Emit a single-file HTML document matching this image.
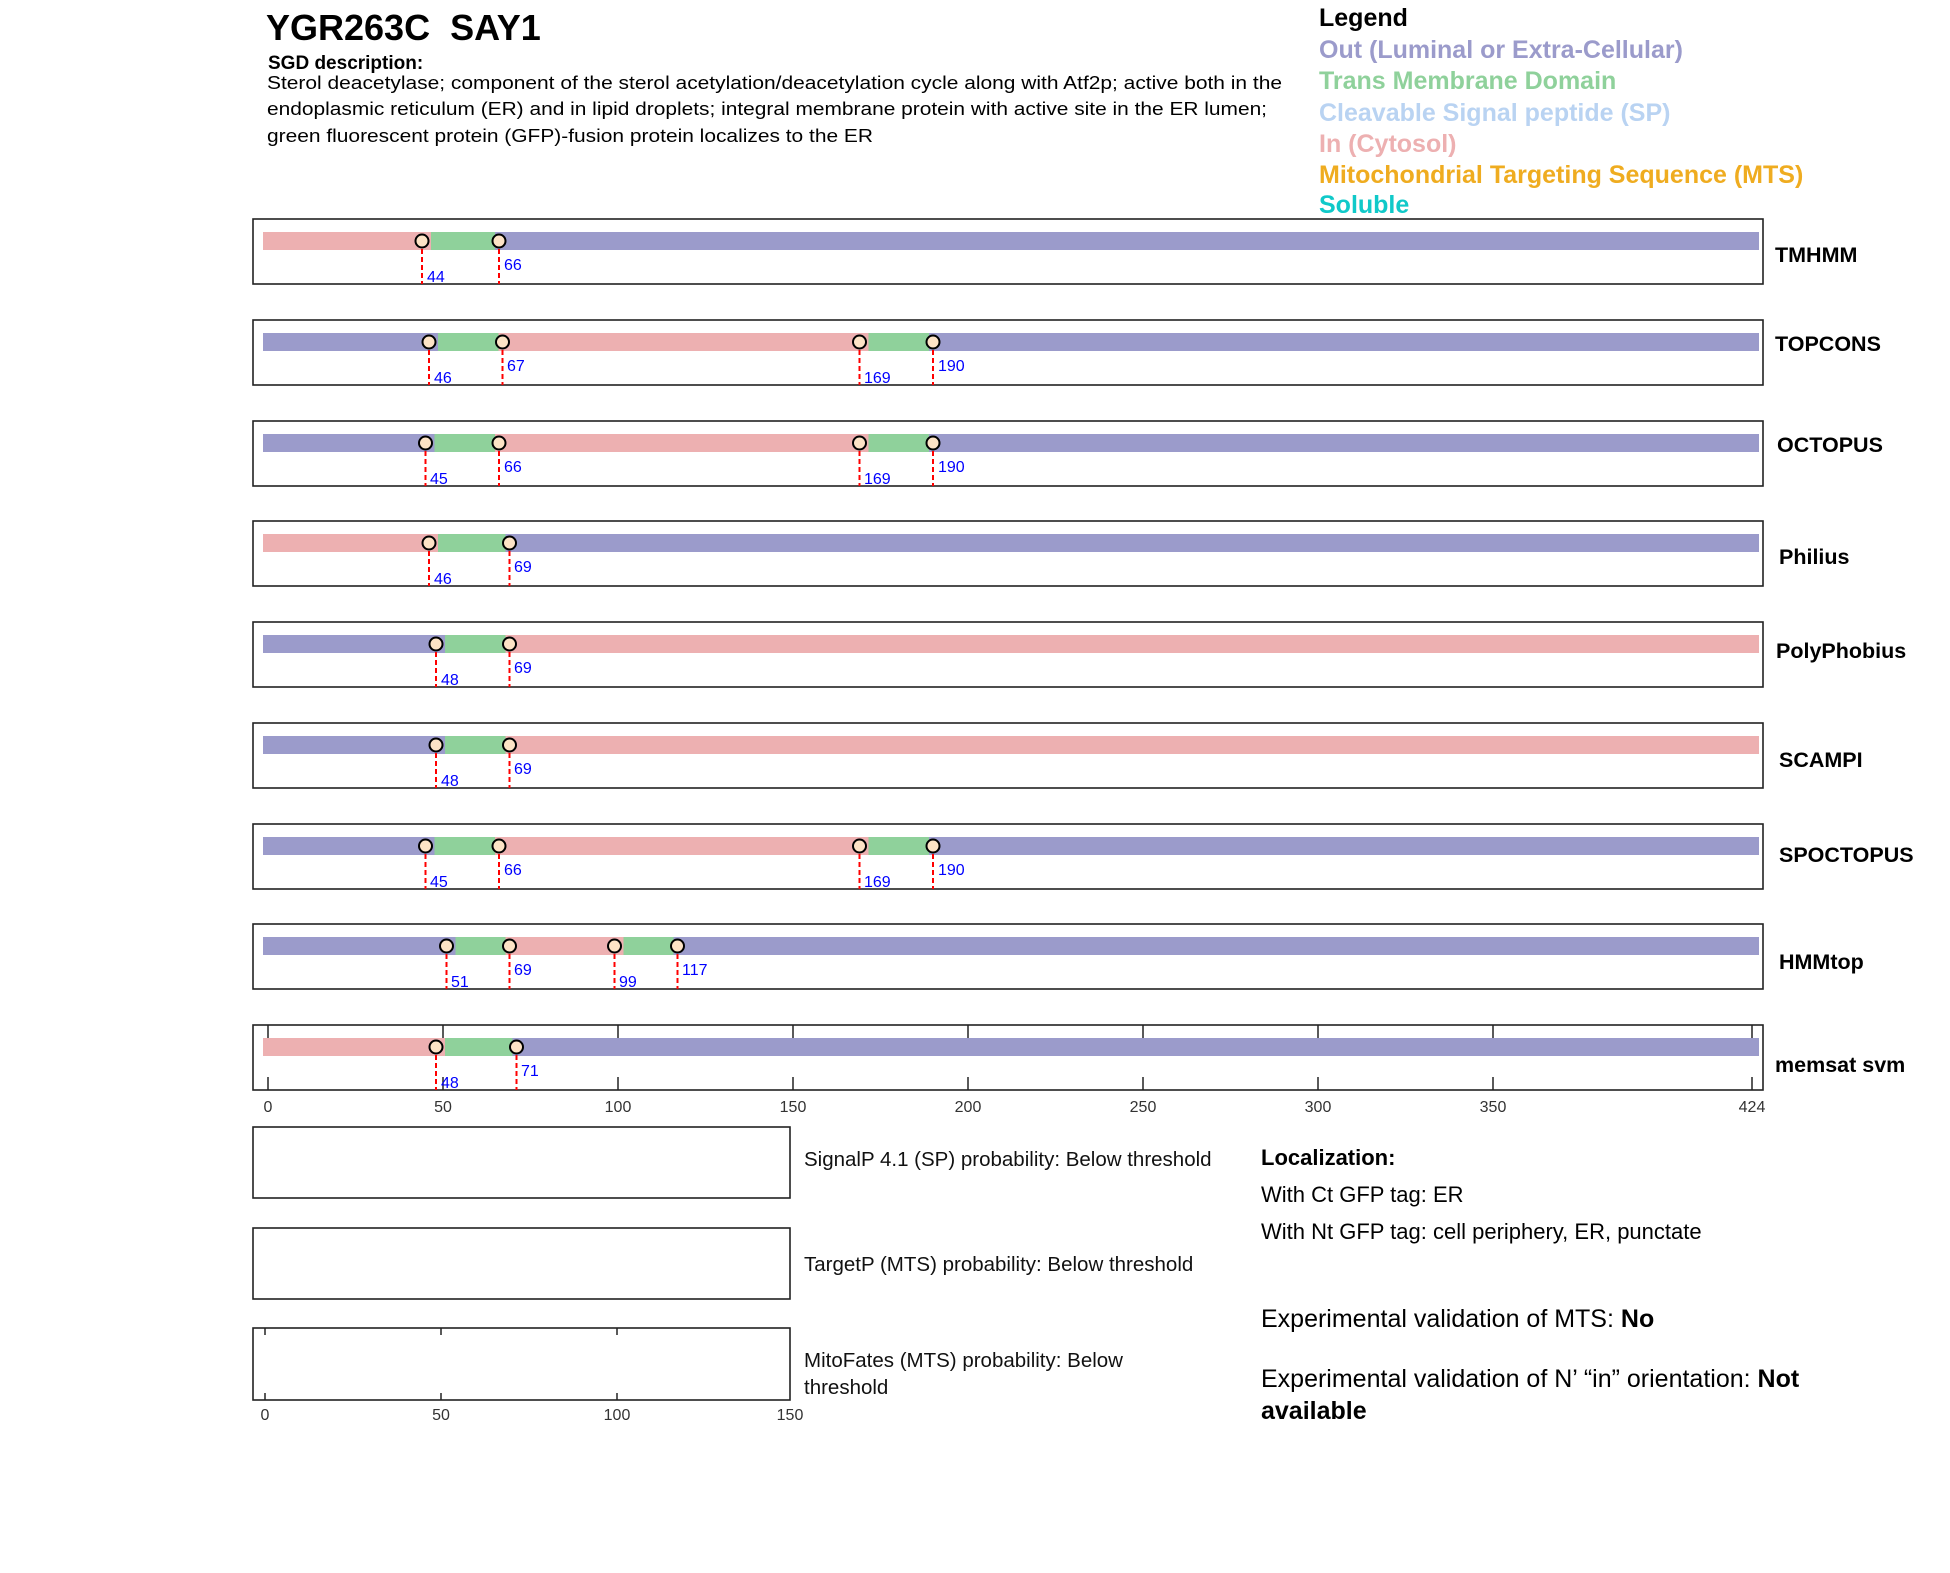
<!DOCTYPE html>
<html><head><meta charset="utf-8"><style>
html,body{margin:0;padding:0;background:#fff;}
svg{display:block;font-family:"Liberation Sans",Arial,sans-serif;}
</style></head><body>
<svg width="1950" height="1573" viewBox="0 0 1950 1573" xmlns="http://www.w3.org/2000/svg">
<style>
.box{fill:none;stroke:#222;stroke-width:1.6}
.dl{stroke:#f00;stroke-width:2;stroke-dasharray:5,3}
.mk{fill:#fde3c6;stroke:#000;stroke-width:2}
.lb{fill:#0000ff;font-size:16px}
.mn{font-size:21.5px;font-weight:bold;fill:#000}
.tk{stroke:#222;stroke-width:1.5}
.tl{font-size:16px;fill:#333;text-anchor:middle}
</style>
<!-- header -->
<text x="266" y="40" font-size="36" font-weight="bold" xml:space="preserve">YGR263C  SAY1</text>
<text x="268" y="69" font-size="19" font-weight="bold">SGD description:</text>
<text x="267" y="89" font-size="18" textLength="1015" lengthAdjust="spacingAndGlyphs">Sterol deacetylase; component of the sterol acetylation/deacetylation cycle along with Atf2p; active both in the</text>
<text x="267" y="115" font-size="18" textLength="1000" lengthAdjust="spacingAndGlyphs">endoplasmic reticulum (ER) and in lipid droplets; integral membrane protein with active site in the ER lumen;</text>
<text x="267" y="142" font-size="18" textLength="606" lengthAdjust="spacingAndGlyphs">green fluorescent protein (GFP)-fusion protein localizes to the ER</text>
<g font-size="25" font-weight="bold">
<text x="1319" y="26" fill="#000">Legend</text>
<text x="1319" y="58" fill="#9b9bcb">Out (Luminal or Extra-Cellular)</text>
<text x="1319" y="89" fill="#8fd19b">Trans Membrane Domain</text>
<text x="1319" y="121" fill="#b9d3f2">Cleavable Signal peptide (SP)</text>
<text x="1319" y="152" fill="#edb0b1">In (Cytosol)</text>
<text x="1319" y="183" fill="#efac20">Mitochondrial Targeting Sequence (MTS)</text>
<text x="1319" y="213" fill="#10c9c9">Soluble</text>
</g>

<!-- TMHMM T=219 -->
<g>
<rect x="263" y="232" width="168" height="18" fill="#edb0b1"/><rect x="431" y="232" width="64" height="18" fill="#8fd19b"/><rect x="495" y="232" width="1264" height="18" fill="#9b9bcb"/>
<rect class="box" x="253" y="219" width="1510" height="65"/>
<line class="dl" x1="422" y1="241" x2="422" y2="284"/><circle class="mk" cx="422" cy="241" r="6.5"/><text class="lb" x="427" y="282">44</text>
<line class="dl" x1="499" y1="241" x2="499" y2="284"/><circle class="mk" cx="499" cy="241" r="6.5"/><text class="lb" x="504" y="270">66</text>
<text class="mn" x="1775" y="262">TMHMM</text>
</g>
<!-- TOPCONS T=320 -->
<g>
<rect x="263" y="333" width="175" height="18" fill="#9b9bcb"/><rect x="438" y="333" width="60.5" height="18" fill="#8fd19b"/><rect x="498.5" y="333" width="370" height="18" fill="#edb0b1"/><rect x="868.5" y="333" width="60.5" height="18" fill="#8fd19b"/><rect x="929" y="333" width="830" height="18" fill="#9b9bcb"/>
<rect class="box" x="253" y="320" width="1510" height="65"/>
<line class="dl" x1="429" y1="342" x2="429" y2="385"/><circle class="mk" cx="429" cy="342" r="6.5"/><text class="lb" x="434" y="383">46</text>
<line class="dl" x1="502.5" y1="342" x2="502.5" y2="385"/><circle class="mk" cx="502.5" cy="342" r="6.5"/><text class="lb" x="507" y="371">67</text>
<line class="dl" x1="859.5" y1="342" x2="859.5" y2="385"/><circle class="mk" cx="859.5" cy="342" r="6.5"/><text class="lb" x="864" y="383">169</text>
<line class="dl" x1="933" y1="342" x2="933" y2="385"/><circle class="mk" cx="933" cy="342" r="6.5"/><text class="lb" x="938" y="371">190</text>
<text class="mn" x="1775" y="351">TOPCONS</text>
</g>
<!-- OCTOPUS T=421 -->
<g>
<rect x="263" y="434" width="171.5" height="18" fill="#9b9bcb"/><rect x="434.5" y="434" width="60.5" height="18" fill="#8fd19b"/><rect x="495" y="434" width="373.5" height="18" fill="#edb0b1"/><rect x="868.5" y="434" width="60.5" height="18" fill="#8fd19b"/><rect x="929" y="434" width="830" height="18" fill="#9b9bcb"/>
<rect class="box" x="253" y="421" width="1510" height="65"/>
<line class="dl" x1="425.5" y1="443" x2="425.5" y2="486"/><circle class="mk" cx="425.5" cy="443" r="6.5"/><text class="lb" x="430" y="484">45</text>
<line class="dl" x1="499" y1="443" x2="499" y2="486"/><circle class="mk" cx="499" cy="443" r="6.5"/><text class="lb" x="504" y="472">66</text>
<line class="dl" x1="859.5" y1="443" x2="859.5" y2="486"/><circle class="mk" cx="859.5" cy="443" r="6.5"/><text class="lb" x="864" y="484">169</text>
<line class="dl" x1="933" y1="443" x2="933" y2="486"/><circle class="mk" cx="933" cy="443" r="6.5"/><text class="lb" x="938" y="472">190</text>
<text class="mn" x="1777" y="452">OCTOPUS</text>
</g>
<!-- Philius T=521 -->
<g>
<rect x="263" y="534" width="175" height="18" fill="#edb0b1"/><rect x="438" y="534" width="67.5" height="18" fill="#8fd19b"/><rect x="505.5" y="534" width="1253.5" height="18" fill="#9b9bcb"/>
<rect class="box" x="253" y="521" width="1510" height="65"/>
<line class="dl" x1="429" y1="543" x2="429" y2="586"/><circle class="mk" cx="429" cy="543" r="6.5"/><text class="lb" x="434" y="584">46</text>
<line class="dl" x1="509.5" y1="543" x2="509.5" y2="586"/><circle class="mk" cx="509.5" cy="543" r="6.5"/><text class="lb" x="514" y="572">69</text>
<text class="mn" x="1779" y="564">Philius</text>
</g>
<!-- PolyPhobius T=622 -->
<g>
<rect x="263" y="635" width="182" height="18" fill="#9b9bcb"/><rect x="445" y="635" width="60.5" height="18" fill="#8fd19b"/><rect x="505.5" y="635" width="1253.5" height="18" fill="#edb0b1"/>
<rect class="box" x="253" y="622" width="1510" height="65"/>
<line class="dl" x1="436" y1="644" x2="436" y2="687"/><circle class="mk" cx="436" cy="644" r="6.5"/><text class="lb" x="441" y="685">48</text>
<line class="dl" x1="509.5" y1="644" x2="509.5" y2="687"/><circle class="mk" cx="509.5" cy="644" r="6.5"/><text class="lb" x="514" y="673">69</text>
<text class="mn" x="1776" y="658">PolyPhobius</text>
</g>
<!-- SCAMPI T=723 -->
<g>
<rect x="263" y="736" width="182" height="18" fill="#9b9bcb"/><rect x="445" y="736" width="60.5" height="18" fill="#8fd19b"/><rect x="505.5" y="736" width="1253.5" height="18" fill="#edb0b1"/>
<rect class="box" x="253" y="723" width="1510" height="65"/>
<line class="dl" x1="436" y1="745" x2="436" y2="788"/><circle class="mk" cx="436" cy="745" r="6.5"/><text class="lb" x="441" y="786">48</text>
<line class="dl" x1="509.5" y1="745" x2="509.5" y2="788"/><circle class="mk" cx="509.5" cy="745" r="6.5"/><text class="lb" x="514" y="774">69</text>
<text class="mn" x="1779" y="767">SCAMPI</text>
</g>
<!-- SPOCTOPUS T=824 -->
<g>
<rect x="263" y="837" width="171.5" height="18" fill="#9b9bcb"/><rect x="434.5" y="837" width="60.5" height="18" fill="#8fd19b"/><rect x="495" y="837" width="373.5" height="18" fill="#edb0b1"/><rect x="868.5" y="837" width="60.5" height="18" fill="#8fd19b"/><rect x="929" y="837" width="830" height="18" fill="#9b9bcb"/>
<rect class="box" x="253" y="824" width="1510" height="65"/>
<line class="dl" x1="425.5" y1="846" x2="425.5" y2="889"/><circle class="mk" cx="425.5" cy="846" r="6.5"/><text class="lb" x="430" y="887">45</text>
<line class="dl" x1="499" y1="846" x2="499" y2="889"/><circle class="mk" cx="499" cy="846" r="6.5"/><text class="lb" x="504" y="875">66</text>
<line class="dl" x1="859.5" y1="846" x2="859.5" y2="889"/><circle class="mk" cx="859.5" cy="846" r="6.5"/><text class="lb" x="864" y="887">169</text>
<line class="dl" x1="933" y1="846" x2="933" y2="889"/><circle class="mk" cx="933" cy="846" r="6.5"/><text class="lb" x="938" y="875">190</text>
<text class="mn" x="1779" y="862">SPOCTOPUS</text>
</g>
<!-- HMMtop T=924 -->
<g>
<rect x="263" y="937" width="192.5" height="18" fill="#9b9bcb"/><rect x="455.5" y="937" width="50" height="18" fill="#8fd19b"/><rect x="505.5" y="937" width="118" height="18" fill="#edb0b1"/><rect x="623.5" y="937" width="50" height="18" fill="#8fd19b"/><rect x="673.5" y="937" width="1085.5" height="18" fill="#9b9bcb"/>
<rect class="box" x="253" y="924" width="1510" height="65"/>
<line class="dl" x1="446.5" y1="946" x2="446.5" y2="989"/><circle class="mk" cx="446.5" cy="946" r="6.5"/><text class="lb" x="451" y="987">51</text>
<line class="dl" x1="509.5" y1="946" x2="509.5" y2="989"/><circle class="mk" cx="509.5" cy="946" r="6.5"/><text class="lb" x="514" y="975">69</text>
<line class="dl" x1="614.5" y1="946" x2="614.5" y2="989"/><circle class="mk" cx="614.5" cy="946" r="6.5"/><text class="lb" x="619" y="987">99</text>
<line class="dl" x1="677.5" y1="946" x2="677.5" y2="989"/><circle class="mk" cx="677.5" cy="946" r="6.5"/><text class="lb" x="682" y="975">117</text>
<text class="mn" x="1779" y="969">HMMtop</text>
</g>
<!-- memsat T=1025 -->
<g>
<rect x="263" y="1038" width="182" height="18" fill="#edb0b1"/><rect x="445" y="1038" width="67.5" height="18" fill="#8fd19b"/><rect x="512.5" y="1038" width="1246.5" height="18" fill="#9b9bcb"/>
<g class="tk">
<line x1="268" y1="1025" x2="268" y2="1038"/><line x1="268" y1="1077" x2="268" y2="1090"/>
<line x1="443" y1="1025" x2="443" y2="1038"/><line x1="443" y1="1077" x2="443" y2="1090"/>
<line x1="618" y1="1025" x2="618" y2="1038"/><line x1="618" y1="1077" x2="618" y2="1090"/>
<line x1="793" y1="1025" x2="793" y2="1038"/><line x1="793" y1="1077" x2="793" y2="1090"/>
<line x1="968" y1="1025" x2="968" y2="1038"/><line x1="968" y1="1077" x2="968" y2="1090"/>
<line x1="1143" y1="1025" x2="1143" y2="1038"/><line x1="1143" y1="1077" x2="1143" y2="1090"/>
<line x1="1318" y1="1025" x2="1318" y2="1038"/><line x1="1318" y1="1077" x2="1318" y2="1090"/>
<line x1="1493" y1="1025" x2="1493" y2="1038"/><line x1="1493" y1="1077" x2="1493" y2="1090"/>
<line x1="1752" y1="1025" x2="1752" y2="1038"/><line x1="1752" y1="1077" x2="1752" y2="1090"/>
</g>
<rect class="box" x="253" y="1025" width="1510" height="65"/>
<line class="dl" x1="436" y1="1047" x2="436" y2="1090"/><circle class="mk" cx="436" cy="1047" r="6.5"/><text class="lb" x="441" y="1088">48</text>
<line class="dl" x1="516.5" y1="1047" x2="516.5" y2="1090"/><circle class="mk" cx="516.5" cy="1047" r="6.5"/><text class="lb" x="521" y="1076">71</text>
<text class="mn" x="1775" y="1072">memsat svm</text>
<text class="tl" x="268" y="1112">0</text><text class="tl" x="443" y="1112">50</text><text class="tl" x="618" y="1112">100</text><text class="tl" x="793" y="1112">150</text><text class="tl" x="968" y="1112">200</text><text class="tl" x="1143" y="1112">250</text><text class="tl" x="1318" y="1112">300</text><text class="tl" x="1493" y="1112">350</text><text class="tl" x="1752" y="1112">424</text>
</g>

<!-- lower boxes -->
<rect class="box" x="253" y="1127" width="537" height="71"/>
<rect class="box" x="253" y="1228" width="537" height="71"/>
<rect class="box" x="253" y="1328" width="537" height="72"/>
<g class="tk">
<line x1="265" y1="1328" x2="265" y2="1335"/><line x1="265" y1="1393" x2="265" y2="1400"/>
<line x1="441" y1="1328" x2="441" y2="1335"/><line x1="441" y1="1393" x2="441" y2="1400"/>
<line x1="617" y1="1328" x2="617" y2="1335"/><line x1="617" y1="1393" x2="617" y2="1400"/>
</g>
<text class="tl" x="265" y="1420">0</text><text class="tl" x="441" y="1420">50</text><text class="tl" x="617" y="1420">100</text><text class="tl" x="790" y="1420">150</text>
<g font-size="20.5" fill="#111">
<text x="804" y="1166">SignalP 4.1 (SP) probability: Below threshold</text>
<text x="804" y="1271">TargetP (MTS) probability: Below threshold</text>
<text x="804" y="1367">MitoFates (MTS) probability: Below</text>
<text x="804" y="1394">threshold</text>
</g>
<text x="1261" y="1165" font-size="22" font-weight="bold">Localization:</text>
<text x="1261" y="1202" font-size="22">With Ct GFP tag: ER</text>
<text x="1261" y="1239" font-size="22">With Nt GFP tag: cell periphery, ER, punctate</text>
<text x="1261" y="1327" font-size="25">Experimental validation of MTS: <tspan font-weight="bold">No</tspan></text>
<text x="1261" y="1387" font-size="25">Experimental validation of N’ “in” orientation: <tspan font-weight="bold">Not</tspan></text>
<text x="1261" y="1419" font-size="25" font-weight="bold">available</text>
</svg>
</body></html>
